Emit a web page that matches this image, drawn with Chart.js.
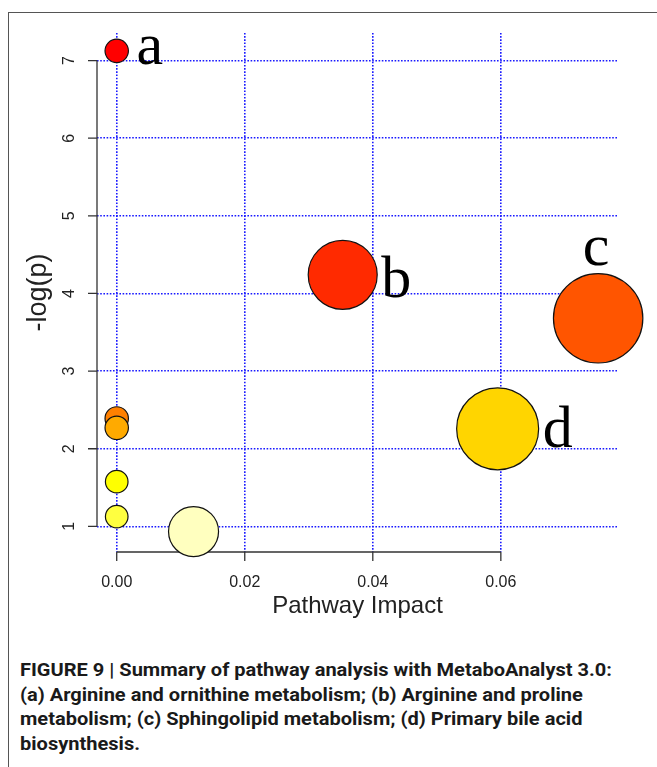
<!DOCTYPE html>
<html>
<head>
<meta charset="utf-8">
<script src="https://cdn.jsdelivr.net/npm/chart.js@4.4.1/dist/chart.umd.min.js"></script>
<style>
  html, body { margin:0; padding:0; background:#fff; }
  body { width:657px; height:767px; position:relative; overflow:hidden; }
  #frame { position:absolute; left:8px; top:12px; width:700px; height:800px; border:1.5px solid #555; box-sizing:border-box; }
  /* canvas is shifted up a bit: Chart.js keeps at least the biggest bubble radius as padding */
  #wrap { position:absolute; left:0; top:-13px; width:664px; height:653px; }
  #caption { position:absolute; left:20px; top:658px; font-family:"Liberation Sans Narrow","Roboto","Liberation Sans",sans-serif;
             font-weight:bold; font-size:18.5px; line-height:24.7px; color:#1a1a1a; white-space:nowrap; transform-origin:left top; }
</style>
</head>
<body>
<div id="frame"></div>
<div id="wrap"><canvas id="bubble_chart" width="664" height="653"></canvas></div>
<div id="caption">
  <div id="cap1">FIGURE 9 | Summary of pathway analysis with MetaboAnalyst 3.0:</div>
  <div>(a) Arginine and ornithine metabolism; (b) Arginine and proline</div>
  <div>metabolism; (c) Sphingolipid metabolism; (d) Primary bile acid</div>
  <div>biosynthesis.</div>
</div>
<script>
// pathway data (sorted by p value)
let impact   = [0.000, 0.0353, 0.0752, 0.000, 0.000, 0.0595, 0.000, 0.000, 0.012];
let logP     = [7.125, 4.24,   3.68,   2.39,  2.27,  2.257,  1.576, 1.126, 0.933];
let nodeSize = [11.7,  34.5,   44.7,   11.7,  11.7,  41,     11.3,  11.3,  25];
let pathTag  = ['a',   'b',    'c',    '',    '',    'd',    '',    '',    ''];
let xTicks = [0, 0.02, 0.04, 0.06];
let xTickLabels = ['0.00', '0.02', '0.04', '0.06'];
let yTicks = [1, 2, 3, 4, 5, 6, 7];

// heat colours like R's heat.colors(9)
let heat = ['#FF0000','#FF2A00','#FF5500','#FF8000','#FFAA00','#FFD500','#FFFF00','#FFFF40','#FFFFBF'];
// where each letter sits next to its bubble
let tagPos = {a:'right', b:'right', c:'top', d:'right'};

let points = new Array();
for(let i=0; i<impact.length; i++) {
    points.push({x:impact[i], y:logP[i], r:nodeSize[i]});
}

// R-style axes: line only between first and last tick, black ticks outside
const rAxes = {
    id:'rAxes',
    beforeDatasetsDraw(chart) {
        const {ctx, scales:{x, y}} = chart;
        ctx.save();
        ctx.strokeStyle = '#333';
        ctx.lineWidth = 1.3;
        ctx.beginPath();
        let yTop = y.getPixelForValue(yTicks[yTicks.length-1]);
        let yBot = y.getPixelForValue(yTicks[0]);
        ctx.moveTo(x.left, yTop); ctx.lineTo(x.left, yBot);
        for(let i=0; i<yTicks.length; i++) {
            let py = y.getPixelForValue(yTicks[i]);
            ctx.moveTo(x.left, py); ctx.lineTo(x.left-9, py);
        }
        let xL = x.getPixelForValue(xTicks[0]);
        let xR = x.getPixelForValue(xTicks[xTicks.length-1]);
        ctx.moveTo(xL, y.bottom); ctx.lineTo(xR, y.bottom);
        for(let i=0; i<xTicks.length; i++) {
            let px = x.getPixelForValue(xTicks[i]);
            ctx.moveTo(px, y.bottom); ctx.lineTo(px, y.bottom+9);
        }
        ctx.stroke();

        ctx.fillStyle = '#222';
        ctx.font = '16px "Liberation Sans", Arial, sans-serif';
        ctx.textAlign = 'center';
        ctx.textBaseline = 'middle';
        for(let i=0; i<xTicks.length; i++) {
            ctx.fillText(xTickLabels[i], x.getPixelForValue(xTicks[i]), y.bottom+31);
        }
        for(let i=0; i<yTicks.length; i++) {
            ctx.save();
            ctx.translate(x.left-27, y.getPixelForValue(yTicks[i]));
            ctx.rotate(-Math.PI/2);
            ctx.fillText(String(yTicks[i]), 0, 0);
            ctx.restore();
        }
        ctx.restore();
    },
    afterDatasetsDraw(chart) {
        const {ctx} = chart;
        let meta = chart.getDatasetMeta(0);
        ctx.save();
        ctx.fillStyle = '#000';
        ctx.font = '60px "Liberation Serif", "DejaVu Serif", serif';
        ctx.textBaseline = 'alphabetic';
        for(let i=0; i<pathTag.length; i++) {
            if(!pathTag[i]) continue;
            let el = meta.data[i];
            let r = nodeSize[i];
            if(tagPos[pathTag[i]] == 'top') {
                ctx.textAlign = 'center';
                ctx.fillText(pathTag[i], el.x - 2, el.y - r - 9);
            } else {
                ctx.textAlign = 'left';
                let gap = pathTag[i] == 'a' ? 11 : 7;
                let drop = pathTag[i] == 'a' ? 13 : (pathTag[i] == 'b' ? 22 : 18);
                ctx.fillText(pathTag[i], el.x + r + gap - 3, el.y + drop);
            }
        }
        ctx.restore();
    }
};

let gridStyle = {
    color:'#1a1aff',
    lineWidth:1.6,
    drawTicks:false
};

let ctx = document.getElementById('bubble_chart');
let pathChart = new Chart(ctx, {
    type:'bubble',
    data:{
        datasets:[{
            data:points,
            backgroundColor:heat,
            borderColor:'#111',
            borderWidth:1.2,
            clip:false
        }]
    },
    options:{
        responsive:false,
        animation:false,
        events:[],
        layout:{padding:{left:0, top:45, right:46, bottom:0}},
        plugins:{legend:{display:false}, tooltip:{enabled:false}},
        scales:{
            x:{
                type:'linear',
                min:-0.00308, max:0.0783,
                afterBuildTicks:function(s) { s.ticks = xTicks.map(v => ({value:v})); },
                afterFit:function(s) { s.height = 88; },
                ticks:{display:false},
                border:{display:false, dash:[1.6,1.6]},
                grid:gridStyle,
                title:{display:true, text:'Pathway Impact', color:'#222',
                       font:{family:'"Liberation Sans", Arial, sans-serif', size:24, lineHeight:1.2},
                       padding:{top:0, bottom:19}}
            },
            y:{
                type:'linear',
                min:0.67, max:7.356,
                afterBuildTicks:function(s) { s.ticks = yTicks.map(v => ({value:v})); },
                afterFit:function(s) { s.width = 97; },
                ticks:{display:false},
                border:{display:false, dash:[1.6,1.6]},
                grid:gridStyle,
                title:{display:true, text:'-log(p)', color:'#222',
                       font:{family:'"Liberation Sans", Arial, sans-serif', size:27, lineHeight:1.2},
                       padding:{top:22, bottom:0}}
            }
        }
    },
    plugins:[rAxes]
});

// squeeze the caption to the condensed width of the original
let cap = document.getElementById('caption');
let range = document.createRange();
range.selectNodeContents(document.getElementById('cap1'));
let tw = range.getBoundingClientRect().width;
if(tw > 0) cap.style.transform = 'scaleX(' + (592/tw) + ')';
</script>
</body>
</html>
